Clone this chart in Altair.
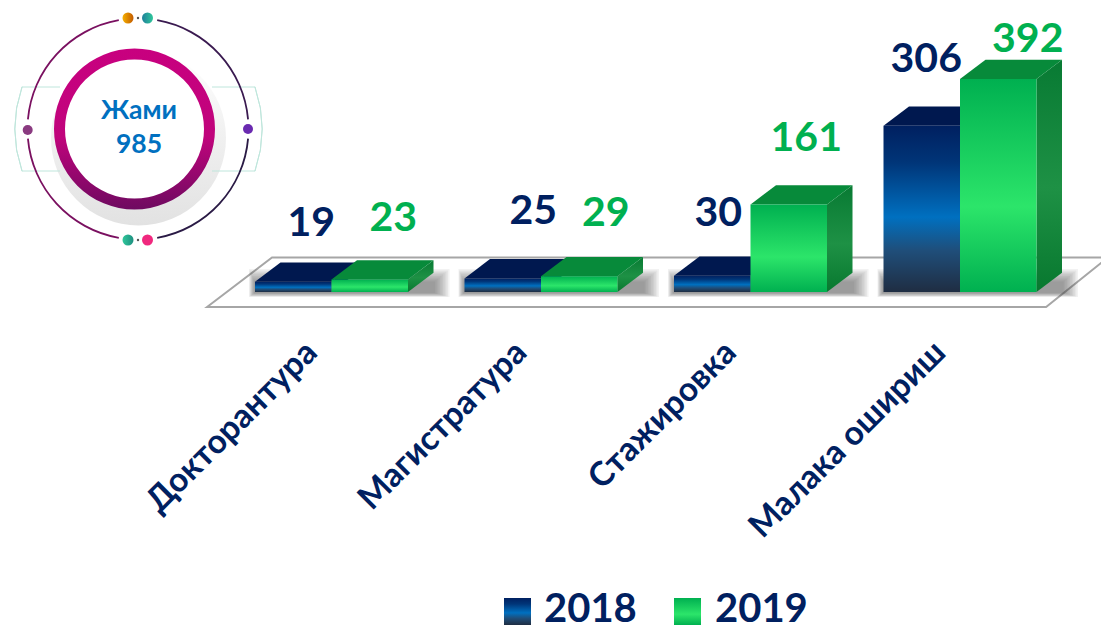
import math
import altair as alt
import pandas as pd

categories = ["Докторантура", "Магистратура", "Стажировка", "Малака ошириш"]
values_2018 = [19, 25, 30, 306]
values_2019 = [23, 29, 161, 392]
years = ["2018", "2019"]
total_label = ["Жами", "985"]

FONT = "Lato"
NAVY = "#002060"
GREEN = "#00B050"
BLUE_TXT = "#0070C0"

# layout constants
W, H = 1093, 624
PX_PER_CAT = 209.5
PX_PER_VAL = 0.5434
X0_PX, Y0_PX = 331.5, 292.0
BAR = 76.5 / PX_PER_CAT
DX = 25.5 / PX_PER_CAT
DY = 19.3 / PX_PER_VAL
xdom = [(8 - X0_PX) / PX_PER_CAT, (8 + W - X0_PX) / PX_PER_CAT]
ydom = [(Y0_PX - 8 - H) / PX_PER_VAL, (Y0_PX - 8) / PX_PER_VAL]
xs = alt.Scale(domain=xdom, nice=False, zero=False)
ys = alt.Scale(domain=ydom, nice=False, zero=False)
names_expr = "[" + ",".join(f"'{c}'" for c in categories) + "][datum.value]"
x_axis = alt.Axis(
    values=[0, 1, 2, 3], labelExpr=names_expr, title=None, grid=False, domain=False, ticks=False,
    labelAngle=-45, labelAlign="right", labelBaseline="middle", labelFont=FONT, labelFontSize=33.5,
    labelFontWeight="bold", labelColor=NAVY, labelPadding=0, offset=-285, labelOffset=-20, labelOverlap=False,
    labelFlush=False, labelBound=False, labelLimit=500)
X = lambda f="x": alt.X(f"{f}:Q", scale=xs, axis=x_axis)
Y = lambda f="y": alt.Y(f"{f}:Q", scale=ys, axis=None)
one = pd.DataFrame({"a": [0]})


def grad(stops, horizontal=False):
    return alt.Gradient(
        gradient="linear",
        x1=0, y1=0,
        x2=1 if horizontal else 0,
        y2=0 if horizontal else 1,
        stops=[alt.GradientStop(offset=o, color=c) for o, c in stops],
    )


BLUE_FRONT = grad([(0, "#002060"), (0.22, "#003578"), (0.55, "#0070C0"), (0.75, "#1F4E7A"), (1, "#1F2D42")])
GREEN_FRONT = grad([(0, "#00B050"), (0.6, "#2CE56A"), (1, "#00B050")])
GREEN_SIDE = grad([(0, "#087A33"), (0.55, "#1E9145"), (1, "#08782F")])
BLUE_SIDE = grad([(0, "#001A50"), (1, "#001A50")])


def px(v):
    return v - 8


layers = []

# floor
floor_x = [-0.594, -0.284, 3.411, 3.706]
floor_top = [-27.6, 63.5, 63.5, 63.5]
floor_bot = [-27.6, -27.6, -27.6, 63.5]
layers.append(
    alt.Chart(pd.DataFrame({"x": floor_x, "y": floor_top, "y2": floor_bot}))
    .mark_area(fill="white", stroke="#A6A6A6", strokeWidth=2, interpolate="linear", line=False)
    .encode(x=X(), y=Y(), y2="y2:Q")
)

# soft shadow beneath the bars
for k in range(10):
    grow_r = 16 - 1.6 * k
    grow_l = 6 - 0.6 * k
    grow_b = 5 - 0.45 * k
    grow_t = 23 - 1.4 * k
    sh = pd.DataFrame({"c": range(4)})
    sh["x"] = sh["c"] - BAR - grow_l / PX_PER_CAT
    sh["x2"] = sh["c"] + BAR + DX + grow_r / PX_PER_CAT
    sh["y"] = -grow_b / PX_PER_VAL
    sh["y2"] = grow_t / PX_PER_VAL
    layers.append(
        alt.Chart(sh).mark_rect(color="#404040", opacity=0.07)
        .encode(x=X(), x2="x2:Q", y=Y(), y2="y2:Q")
    )


def bar_layers(vals, shift, front, top_color, side):
    out = []
    for c, v in enumerate(vals):
        x0 = c + shift
        x1 = x0 + BAR
        # side face
        out.append(
            alt.Chart(pd.DataFrame({"x": [x1, x1 + DX], "y": [v, v + DY], "y2": [0, DY]}))
            .mark_area(fill=side).encode(x=X(), y=Y(), y2="y2:Q")
        )
        # top face
        out.append(
            alt.Chart(pd.DataFrame({"x": [x0, x0 + DX, x1, x1 + DX],
                                    "y": [v, v + DY, v + DY, v + DY],
                                    "y2": [v, v, v, v + DY]}))
            .mark_area(fill=top_color).encode(x=X(), y=Y(), y2="y2:Q")
        )
        # front face
        out.append(
            alt.Chart(pd.DataFrame({"x": [x0], "x2": [x1], "y": [0], "y2": [v]}))
            .mark_rect(fill=front).encode(x=X(), x2="x2:Q", y=Y(), y2="y2:Q")
        )
    return out


layers += bar_layers(values_2018, -BAR, BLUE_FRONT, "#00184F", BLUE_SIDE)
layers += bar_layers(values_2019, 0, GREEN_FRONT, "#078A3A", GREEN_SIDE)

# value labels, hand-placed in the source slide: px nudges from each bar
nudges_2018 = [(18, -38), (30.5, -47), (6, -42), (4.5, -46)]
nudges_2019 = [(23.5, -41), (26.5, -43), (17.5, -46), (29.5, -20)]
for vals, shift, nudges, col in [(values_2018, -BAR / 2, nudges_2018, NAVY), (values_2019, BAR / 2, nudges_2019, GREEN)]:
    for c, (v, (ndx, ndy)) in enumerate(zip(vals, nudges)):
        layers.append(
            alt.Chart(pd.DataFrame({"x": [c + shift], "y": [v + DY], "t": [str(v)]}))
            .mark_text(font=FONT, fontWeight="bold", fontSize=41, color=col, dx=ndx, dy=ndy, baseline="middle")
            .encode(x=X(), y=Y(), text="t:N")
        )

# ---- circular badge ----
def arc(cx, cy, **kw):
    return alt.Chart(one).mark_arc(**kw).encode(x=alt.value(px(cx)), y=alt.value(px(cy)))


r = math.radians
layers.append(arc(138.5, 138, radius=87.5, innerRadius=0, theta=0, theta2=2 * math.pi,
                  fill=grad([(0, "#FFFFFF"), (0.5, "#F0F0F0"), (1, "#E2E2E2")])))
# bracket lines
for cx, a, b in [(144.5, 251, 289), (132.5, 71, 109)]:
    layers.append(arc(cx, 129, radius=129.5, innerRadius=129.5, theta=r(a), theta2=r(b),
                      stroke="#BFE6DC", strokeWidth=1, fillOpacity=0))
for x1, x2 in [(22, 60), (212, 255)]:
    for yy in [87, 171]:
        layers.append(alt.Chart(one).mark_rule(color="#BFE6DC", strokeWidth=1).encode(
            x=alt.value(px(x1)), x2=alt.value(px(x2)), y=alt.value(px(yy))))
# outer thin ring
R = 110.5
for a, b, f in [(10, 85, "#3A1A50"), (95, 170, "#2A1A45"), (190, 265, "#7A1060"), (275, 350, "#7A1060")]:
    layers.append(arc(138, 129, radius=R + 0.9, innerRadius=R - 0.9, theta=r(a), theta2=r(b), fill=f))
# magenta ring
layers.append(arc(134.5, 129, radius=71, innerRadius=0, theta=0, theta2=2 * math.pi, fill="white"))
layers.append(arc(134.5, 129, radius=80.5, innerRadius=69.5, theta=0, theta2=2 * math.pi,
                  fill=grad([(0, "#C8007F"), (0.55, "#C0047C"), (1, "#6E0A60")])))
# dots
dots = [
    (128, 18, 5.5, grad([(0, "#F5B000"), (1, "#C25A00")], True)),
    (147.5, 18, 5.5, grad([(0, "#1F7F9A"), (1, "#2FC79A")], True)),
    (128, 240, 5.5, grad([(0, "#2FC79A"), (1, "#1F8F80")], True)),
    (147.5, 240, 5.5, grad([(0, "#F0287E"), (1, "#F0287E")], True)),
    (27.7, 130, 5, grad([(0, "#8A3A80"), (1, "#8A3A80")], True)),
    (248, 129, 5, grad([(0, "#6A2AB0"), (1, "#6A2AB0")], True)),
]
for cx, cy, rad, f in dots:
    layers.append(arc(cx, cy, radius=rad + 2.5, innerRadius=0, theta=0, theta2=2 * math.pi, fill="white"))
    layers.append(arc(cx, cy, radius=rad, innerRadius=0, theta=0, theta2=2 * math.pi, fill=f))
for cy in [18, 240]:
    layers.append(arc(138, cy, radius=1.2, innerRadius=0, theta=0, theta2=2 * math.pi, fill="#555555"))
for t, yy, size in [(total_label[0], 111, 26.5), (total_label[1], 145, 26.5)]:
    layers.append(alt.Chart(pd.DataFrame({"t": [t]})).mark_text(
        font=FONT, fontWeight="bold", fontSize=size, color=BLUE_TXT, baseline="middle"
    ).encode(x=alt.value(px(139)), y=alt.value(px(yy)), text="t:N"))

# ---- legend ----
for yr, sx, tx, f in [(years[0], 504, 544, BLUE_FRONT), (years[1], 674, 715, GREEN_FRONT)]:
    layers.append(alt.Chart(one).mark_rect(fill=f).encode(
        x=alt.value(px(sx)), x2=alt.value(px(sx + 27)), y=alt.value(px(598)), y2=alt.value(px(625))))
    layers.append(alt.Chart(pd.DataFrame({"t": [yr]})).mark_text(
        font=FONT, fontWeight="bold", fontSize=40, color=NAVY, baseline="middle", align="left"
    ).encode(x=alt.value(px(tx)), y=alt.value(px(610)), text="t:N"))

chart = (
    alt.layer(*layers)
    .resolve_scale(x="shared", y="shared")
    .properties(width=W, height=H, padding=0, autosize=alt.AutoSizeParams(type="none"))
    .configure_view(stroke=None)
)
chart.save("out.html", embed_options={"renderer": "svg", "actions": False})
